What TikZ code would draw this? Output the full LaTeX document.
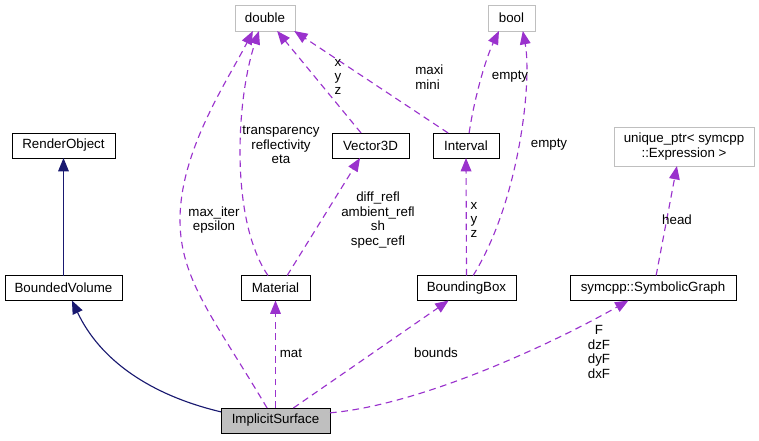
\documentclass[tikz,border=0pt]{standalone}
\usepackage{fontspec}
\setmainfont{Liberation Sans}
\usetikzlibrary{arrows.meta}
\definecolor{edgepurple}{HTML}{9A32CD}
\definecolor{edgenavy}{HTML}{191970}
\definecolor{extgray}{HTML}{BFBFBF}

\begin{document}
\begin{tikzpicture}[x=0.75pt, y=-0.75pt,
  font=\fontsize{10}{10.8}\selectfont,
  cls/.style={rectangle, draw=black, line width=0.75pt, inner sep=1pt, outer sep=0pt, minimum height=18.75pt},
  ext/.style={cls, draw=extgray},
  inh/.style={draw=edgenavy, line width=0.85pt, -{Triangle[length=10pt,width=8pt]}},
  usage/.style={draw=edgepurple, line width=0.85pt, dash pattern=on 5pt off 3.5pt, -{Triangle[length=10pt,width=8pt]}},
  lbl/.style={inner sep=0pt, align=center}]
\useasboundingbox (0,0) rectangle (759,440);

\node (double) at (265,18) [ext, minimum width=45pt, minimum height=19.5pt] {double};
\node (bool) at (511.5,18) [ext, minimum width=35.25pt, minimum height=19.5pt] {bool};
\node (ro) at (63.5,145.5) [cls, minimum width=77.25pt] {RenderObject};
\node (vec) at (370.5,145.5) [cls, minimum width=57.75pt] {Vector3D};
\node (intv) at (466,145.5) [cls, minimum width=49.5pt] {Interval};
\node (uptr) at (684,146.5) [ext, minimum width=105pt, minimum height=29.25pt, align=center] {unique\_ptr< symcpp\\::Expression >};
\node (bv) at (63.5,288) [cls, minimum width=87.75pt] {BoundedVolume};
\node (mat) at (275.5,288) [cls, minimum width=51.75pt] {Material};
\node (bb) at (466.5,288) [cls, minimum width=74.25pt] {BoundingBox};
\node (sg) at (653,288) [cls, minimum width=124.5pt] {symcpp::SymbolicGraph};
\node (imp) at (275.5,420.5) [cls, fill=extgray, minimum width=81.75pt] {ImplicitSurface};

% inheritance
\draw[inh] (bv.north) -- (ro.south);
\draw[inh] (imp.171) .. controls (150,395) and (100,360) .. (bv.304);

% members
\draw[usage] (imp.north) -- (mat.south);
\draw[usage] (imp.35) -- (bb.215);
\draw[usage] (imp.8) .. controls (420,405) and (550,345) .. (sg.207);
\draw[usage] (imp.124) .. controls (215,320) and (180,280) .. (180,220)
  .. controls (180,150) and (228,80) .. (double.227);
\draw[usage] (mat.121) .. controls (230,220) and (236,100) .. (double.245);
\draw[usage] (mat.47) -- (vec.230);
\draw[usage] (vec.127) -- (double.313);
\draw[usage] (intv.145) -- (double.336);
\draw[usage] (intv.76) .. controls (474,100) and (485,60) .. (bool.226);
\draw[usage] (bb.north) -- (intv.south);
\draw[usage] (bb.62) .. controls (520,200) and (532,80) .. (bool.311);
\draw[usage] (sg.76) -- (uptr.250);

\node (lmaxiter) at (214,220) [lbl] {max\_iter\\epsilon};
\node (ltransp) at (281,145) [lbl] {transparency\\reflectivity\\eta};
\node (lvecxyz) at (338,77) [lbl] {x\\y\\z};
\node (lmaxi) at (415,77) [lbl, anchor=west, align=left] {maxi\\mini};
\node (lempty) at (510,77) [lbl] {empty};
\node (lemptyb) at (549,145) [lbl] {empty};
\node (lrefl) at (378,220) [lbl] {diff\_refl\\ambient\_refl\\sh\\spec\_refl};
\node (lbbxyz) at (474,220) [lbl] {x\\y\\z};
\node (lhead) at (677,220) [lbl] {head};
\node (lmat) at (291,353) [lbl] {mat};
\node (lbounds) at (436,353) [lbl] {bounds};
\node (lfunc) at (599,352) [lbl] {F\\dzF\\dyF\\dxF};
\end{tikzpicture}
\end{document}
